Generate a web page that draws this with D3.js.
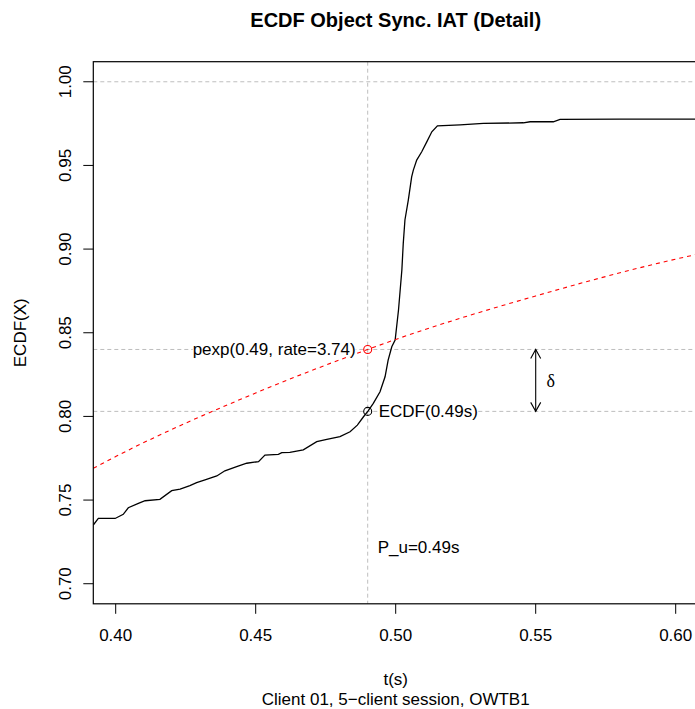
<!DOCTYPE html>
<html>
<head>
<meta charset="utf-8">
<script src="https://cdn.jsdelivr.net/npm/d3@7"></script>
<style>
  body { margin: 0; background: #fff; }
  svg { display: block; font-family: "Liberation Sans", Arial, Helvetica, sans-serif; }
</style>
</head>
<body>
<svg id="chart" width="695" height="709"></svg>
<script>
// axis ticks
const xTicks = [0.40, 0.45, 0.50, 0.55, 0.60];
const yTicks = [0.70, 0.75, 0.80, 0.85, 0.90, 0.95, 1.00];

// ECDF: [t, F(t)]
const ecdfPoints = [
  [0.392, 0.7351], [0.3938, 0.739], [0.3998, 0.739], [0.4027, 0.7415],
  [0.4045, 0.7454], [0.4081, 0.748], [0.4105, 0.7496], [0.4158, 0.7504],
  [0.42, 0.7556], [0.423, 0.7566], [0.4265, 0.7586], [0.4289, 0.7604],
  [0.4319, 0.762], [0.4361, 0.7644], [0.439, 0.7675], [0.4432, 0.770],
  [0.4468, 0.772], [0.451, 0.773], [0.4533, 0.7769], [0.4581, 0.7773],
  [0.4593, 0.7783], [0.4622, 0.7785], [0.467, 0.780], [0.4718, 0.7849],
  [0.4754, 0.7863], [0.4801, 0.7879], [0.4837, 0.7908], [0.4863, 0.7948],
  [0.4885, 0.7998], [0.4901, 0.8032], [0.492, 0.8078], [0.4944, 0.8147],
  [0.4962, 0.8237], [0.4973, 0.8337], [0.4986, 0.8416], [0.4998, 0.8456],
  [0.501, 0.8636], [0.5022, 0.8875], [0.5027, 0.9034], [0.5033, 0.9174],
  [0.5045, 0.9293], [0.5057, 0.9432], [0.5063, 0.9472], [0.5075, 0.9532],
  [0.5093, 0.9582], [0.5111, 0.9641], [0.5129, 0.9701], [0.5149, 0.9737],
  [0.523, 0.9743], [0.5313, 0.9751], [0.5456, 0.9755], [0.548, 0.9761],
  [0.5563, 0.9761], [0.5587, 0.9775], [0.5801, 0.9777], [0.608, 0.9777]
];

// exponential fit curve
const pexpPoints = [
  [0.392, 0.769], [0.40, 0.776], [0.45, 0.814], [0.49, 0.840],
  [0.50, 0.846], [0.55, 0.872], [0.60, 0.894], [0.608, 0.897]
];

const pU = 0.49;
const ecdfAtPu = 0.803;
const pexpAtPu = 0.840;
const deltaX = 0.55;

const svg = d3.select('#chart');
const fs = 17;

const x = d3.scaleLinear().domain([0.392, 0.608]).range([93.3, 698.1]);
const y = d3.scaleLinear().domain([0.688, 1.012]).range([603.8, 61.7]);

const [x0, x1] = x.range();
const [yb, yt] = y.range();

svg.append('clipPath').attr('id', 'plotclip')
  .append('rect')
  .attr('x', x0).attr('y', yt)
  .attr('width', x1 - x0).attr('height', yb - yt);

const plot = svg.append('g').attr('clip-path', 'url(#plotclip)');

// grey reference lines
const grey = '#bebebe';
[1.0, pexpAtPu, ecdfAtPu].forEach(v => {
  plot.append('line')
    .attr('x1', x0).attr('x2', x1)
    .attr('y1', y(v)).attr('y2', y(v))
    .attr('stroke', grey).attr('stroke-width', 1)
    .attr('stroke-dasharray', '4,3');
});
plot.append('line')
  .attr('x1', x(pU)).attr('x2', x(pU))
  .attr('y1', yt).attr('y2', yb)
  .attr('stroke', grey).attr('stroke-width', 1)
  .attr('stroke-dasharray', '4,3');

// ECDF curve
plot.append('path')
  .datum(ecdfPoints)
  .attr('fill', 'none')
  .attr('stroke', '#000')
  .attr('stroke-width', 1.3)
  .attr('d', d3.line().x(d => x(d[0])).y(d => y(d[1])));

// pexp curve
plot.append('path')
  .datum(pexpPoints)
  .attr('fill', 'none')
  .attr('stroke', 'red')
  .attr('stroke-width', 1.1)
  .attr('stroke-dasharray', '4,4')
  .attr('d', d3.line().curve(d3.curveMonotoneX).x(d => x(d[0])).y(d => y(d[1])));

// labels with white backing
function label(txt, px, py, anchor) {
  const g = svg.append('g');
  const bg = g.append('rect').attr('fill', '#fff');
  const t = g.append('text')
    .attr('x', px).attr('y', py)
    .attr('dy', '0.35em')
    .attr('text-anchor', anchor)
    .attr('font-size', fs)
    .text(txt);
  const b = t.node().getBBox();
  bg.attr('x', b.x).attr('y', b.y + 3).attr('width', b.width).attr('height', b.height - 6);
  return g;
}

label('pexp(0.49, rate=3.74)', x(pU) - 12, y(pexpAtPu), 'end');
label('ECDF(0.49s)', x(pU) + 11, y(ecdfAtPu), 'start');

svg.append('text')
  .attr('x', x(pU) + 10).attr('y', y(0.722))
  .attr('dy', '0.35em')
  .attr('font-size', fs)
  .text('P_u=0.49s');

// points
svg.append('circle')
  .attr('cx', x(pU)).attr('cy', y(pexpAtPu)).attr('r', 4)
  .attr('fill', 'none').attr('stroke', 'red').attr('stroke-width', 1.1);
svg.append('circle')
  .attr('cx', x(pU)).attr('cy', y(ecdfAtPu)).attr('r', 4)
  .attr('fill', 'none').attr('stroke', '#000').attr('stroke-width', 1.1);

// delta arrow (both ends)
const ax = x(deltaX);
const ya = y(pexpAtPu), yb2 = y(ecdfAtPu);
const head = 9, half = 5;
const arrow = svg.append('g').attr('stroke', '#000').attr('stroke-width', 1.1).attr('fill', 'none');
arrow.append('line').attr('x1', ax).attr('x2', ax).attr('y1', ya).attr('y2', yb2);
arrow.append('path').attr('d', `M${ax - half},${ya + head}L${ax},${ya}L${ax + half},${ya + head}`);
arrow.append('path').attr('d', `M${ax - half},${yb2 - head}L${ax},${yb2}L${ax + half},${yb2 - head}`);

svg.append('text')
  .attr('x', ax + 15).attr('y', (ya + yb2) / 2)
  .attr('dy', '0.35em')
  .attr('text-anchor', 'middle')
  .attr('font-family', '"Liberation Serif", "DejaVu Serif", serif')
  .attr('font-size', 18)
  .text('δ');

// box (right edge falls just outside the window)
svg.append('rect')
  .attr('x', x0).attr('y', yt)
  .attr('width', x1 - x0).attr('height', yb - yt)
  .attr('fill', 'none').attr('stroke', '#000').attr('stroke-width', 1.2);

// x axis
const xAxis = svg.append('g');
xAxis.selectAll('line').data(xTicks).enter().append('line')
  .attr('x1', d => x(d)).attr('x2', d => x(d))
  .attr('y1', yb).attr('y2', yb + 10)
  .attr('stroke', '#000');
xAxis.selectAll('text').data(xTicks).enter().append('text')
  .attr('x', d => x(d)).attr('y', 641)
  .attr('text-anchor', 'middle')
  .attr('font-size', fs)
  .text(d => d3.format('.2f')(d));

// y axis
const yAxis = svg.append('g');
yAxis.selectAll('line').data(yTicks).enter().append('line')
  .attr('x1', x0 - 10).attr('x2', x0)
  .attr('y1', d => y(d)).attr('y2', d => y(d))
  .attr('stroke', '#000');
yAxis.selectAll('text').data(yTicks).enter().append('text')
  .attr('transform', d => `translate(70.5,${y(d)}) rotate(-90)`)
  .attr('text-anchor', 'middle')
  .attr('font-size', fs)
  .text(d => d3.format('.2f')(d));

// titles
const cx = (x0 + x1) / 2;
svg.append('text')
  .attr('x', cx).attr('y', 27)
  .attr('text-anchor', 'middle')
  .attr('font-size', 20).attr('font-weight', 'bold')
  .text('ECDF Object Sync. IAT (Detail)');

svg.append('text')
  .attr('x', cx).attr('y', 685)
  .attr('text-anchor', 'middle')
  .attr('font-size', fs)
  .text('t(s)');

svg.append('text')
  .attr('x', cx).attr('y', 705)
  .attr('text-anchor', 'middle')
  .attr('font-size', fs)
  .text('Client 01, 5\u2212client session, OWTB1');

svg.append('text')
  .attr('transform', `translate(26,${(yt + yb) / 2}) rotate(-90)`)
  .attr('text-anchor', 'middle')
  .attr('font-size', fs)
  .text('ECDF(X)');
</script>
</body>
</html>
